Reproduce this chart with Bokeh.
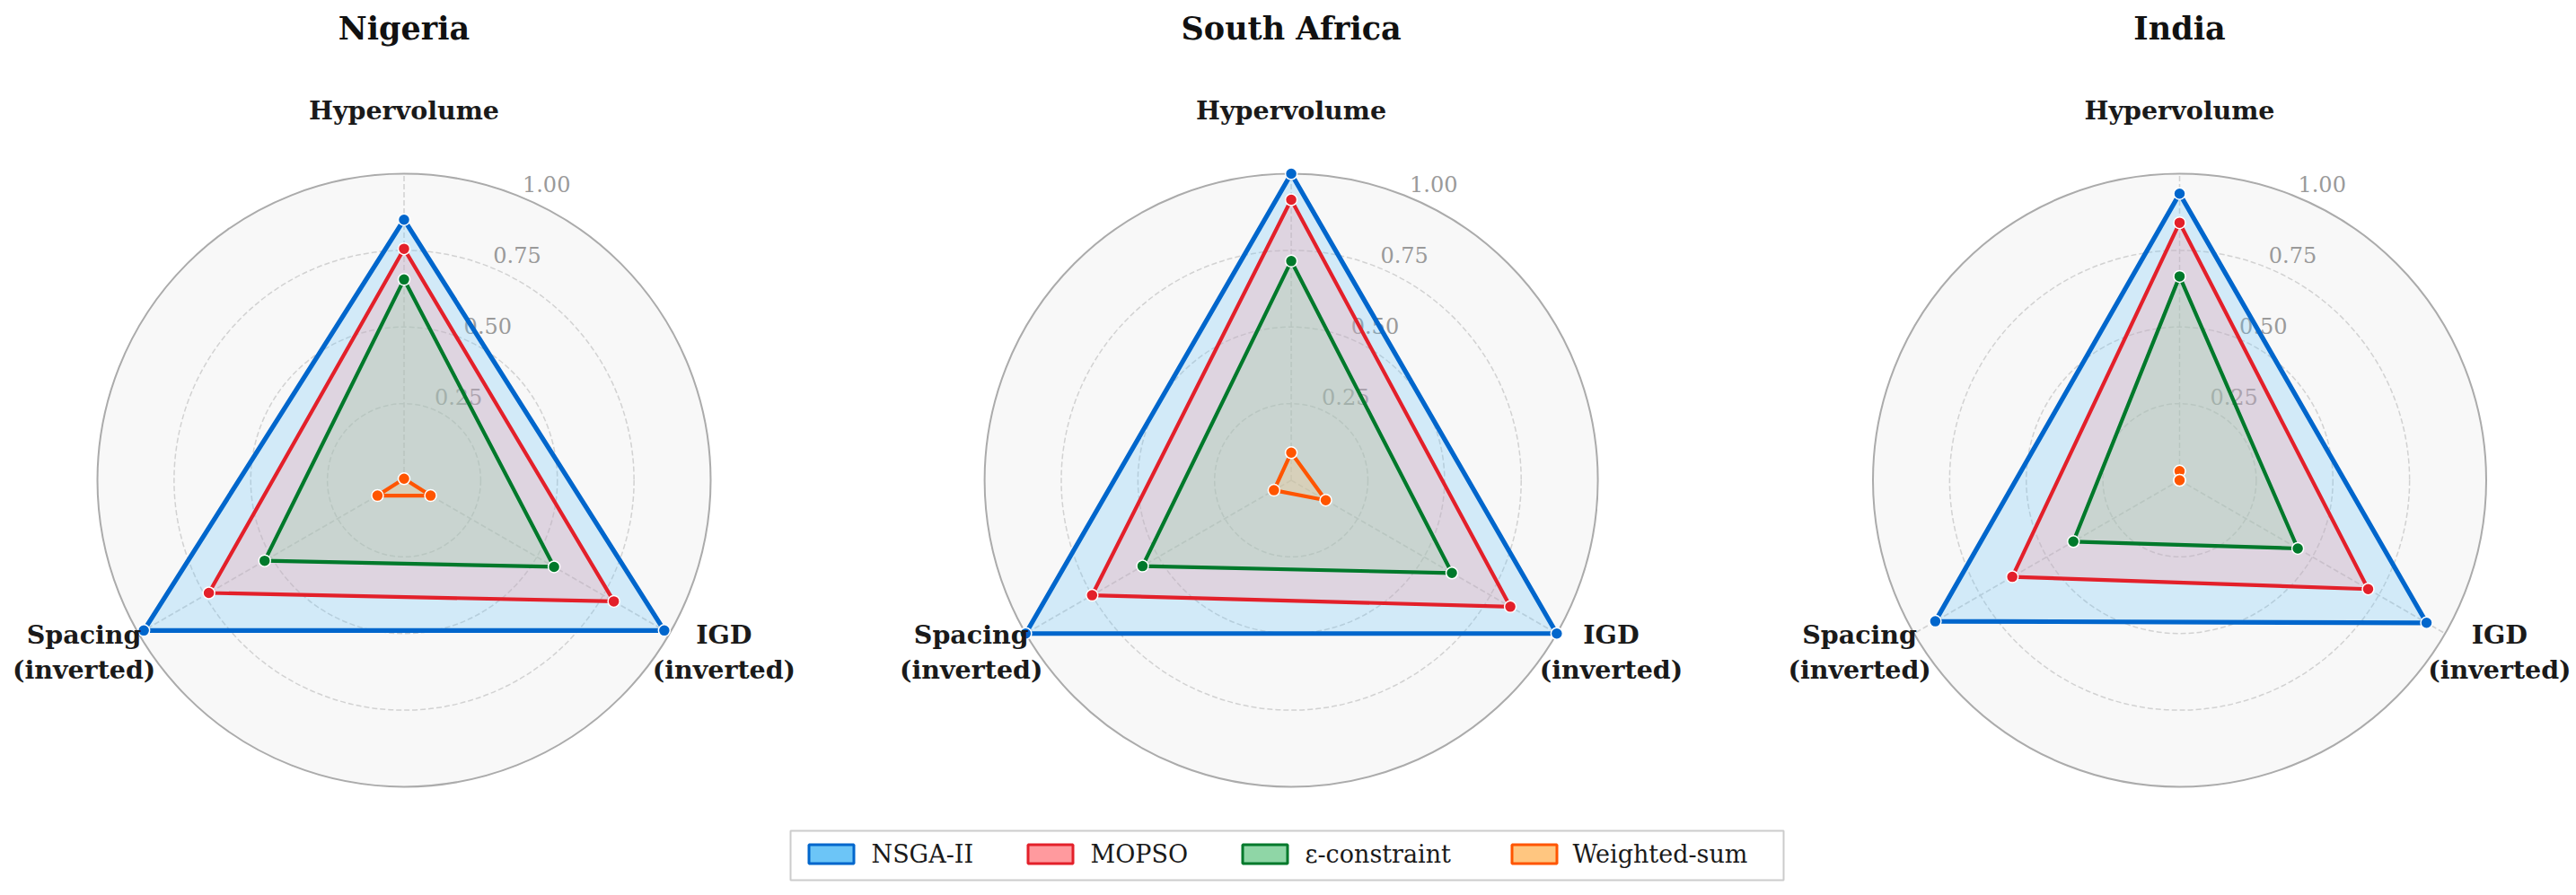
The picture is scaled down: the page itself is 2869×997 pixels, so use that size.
import numpy as np
from bokeh.plotting import figure
from bokeh.models import Range1d
from bokeh.embed import file_html
from bokeh.resources import INLINE
from bokeh.core.properties import value

# ---------------- data ----------------
countries = ["Nigeria", "South Africa", "India"]
metrics = ["Hypervolume", "IGD\n(inverted)", "Spacing\n(inverted)"]
methods = ["NSGA-II", "MOPSO", "ε-constraint", "Weighted-sum"]
ticks = [0.25, 0.50, 0.75, 1.00]
tick_labels = ["0.25", "0.50", "0.75", "1.00"]

# values per country: [Hypervolume, IGD (inverted), Spacing (inverted)]
nsga2 = {"Nigeria": [0.85, 0.98, 0.98], "South Africa": [1.00, 1.00, 1.00], "India": [0.935, 0.93, 0.92]}
mopso = {"Nigeria": [0.755, 0.79, 0.735], "South Africa": [0.915, 0.825, 0.75], "India": [0.84, 0.71, 0.63]}
eps_constraint = {"Nigeria": [0.655, 0.565, 0.525], "South Africa": [0.715, 0.605, 0.56], "India": [0.665, 0.445, 0.40]}
weighted_sum = {"Nigeria": [0.005, 0.10, 0.10], "South Africa": [0.09, 0.13, 0.065], "India": [0.03, 0.0, 0.0]}
series = [nsga2, mopso, eps_constraint, weighted_sum]

# ---------------- style ----------------
line_colors = ["#0066cc", "#e3202a", "#00792b", "#ff5500"]
fill_colors = ["#6cc5f7", "#ff9a9e", "#8fd6a6", "#ffc680"]
line_widths = [5.2, 4.2, 4.2, 4.2]
FONT = "DejaVu Serif"

R_PX = 341.5          # radius of the 1.0 ring in pixels
W, H = 2869, 997


def dx(X):
    return (X - 449.5) / R_PX


def dy(Y):
    return (534.5 - Y) / R_PX


centers = [0.0, dx(1437.6), dx(2427.0)]
angles = np.radians([0.0, 120.0, 240.0])   # clockwise from top
label_yoff = [0, -14, -14]                 # screen px nudge of the metric labels

p = figure(width=W, height=H,
           x_range=Range1d(dx(0), dx(W)), y_range=Range1d(dy(H), dy(0)),
           output_backend="svg", toolbar_location=None, min_border=0,
           x_axis_location=None, y_axis_location=None)
p.grid.visible = False
p.outline_line_color = None
p.background_fill_color = "white"
p.border_fill_color = "white"

# polar backgrounds
p.circle(x=centers, y=[0.0] * 3, radius=1.0, fill_color="#f8f8f8", line_color=None)

# dashed rings and spokes
rx, ry, rr = [], [], []
for cx in centers:
    for t in ticks[:-1]:
        rx.append(cx); ry.append(0.0); rr.append(t)
p.circle(x=rx, y=ry, radius=rr, fill_color=None, line_color="#d2d2d2",
         line_width=1.5, line_dash="6 3")
sx0, sy0, sx1, sy1 = [], [], [], []
for cx in centers:
    for a in angles:
        sx0.append(cx); sy0.append(0.0)
        sx1.append(cx + np.sin(a)); sy1.append(np.cos(a))
p.segment(x0=sx0, y0=sy0, x1=sx1, y1=sy1, line_color="#d2d2d2", line_width=1.5, line_dash="6 3")

# outer ring
p.circle(x=centers, y=[0.0] * 3, radius=1.0, fill_color=None, line_color="#ababab", line_width=2)

# radial tick labels
la = np.radians(22.5)
tx, ty, tt = [], [], []
for cx in centers:
    for t, lab in zip(ticks, tick_labels):
        tx.append(cx + t * np.sin(la)); ty.append(t * np.cos(la)); tt.append(lab)
p.text(x=tx, y=ty, text=tt, x_offset=28, y_offset=-14, text_align="center",
       text_baseline="middle", text_font=value(FONT), text_font_size="24px", text_color="#9a9a9a")

# polygons
for s, lc, fc, lw in zip(series, line_colors, fill_colors, line_widths):
    xs, ys, px, py = [], [], [], []
    for cx, c in zip(centers, countries):
        vals = np.array(s[c])
        x = cx + vals * np.sin(angles)
        y = vals * np.cos(angles)
        xs.append(list(x)); ys.append(list(y))
        px += list(x); py += list(y)
    p.patches(xs=xs, ys=ys, fill_color=fc, fill_alpha=0.27, line_color=lc,
              line_width=lw, line_join="round")
    p.scatter(x=px, y=py, size=13, fill_color=lc, line_color="white", line_width=1.5)

# axis (metric) labels
mx, my, mt, mo = [], [], [], []
for cx in centers:
    for a, m, yo in zip(angles, metrics, label_yoff):
        mx.append(cx + 1.205 * np.sin(a)); my.append(1.205 * np.cos(a)); mt.append(m); mo.append(yo)
p.text(x=mx, y=my, text=mt, y_offset=mo, text_align="center", text_baseline="middle",
       text_font=value(FONT), text_font_style="bold", text_font_size="28.5px",
       text_color="#1a1a1a", text_line_height=1.15)

# titles
p.text(x=centers, y=[dy(31)] * 3, text=countries, text_align="center", text_baseline="middle",
       text_font=value(FONT), text_font_style="bold", text_font_size="35px", text_color="#111111")

# legend (drawn manually)
p.quad(left=dx(880), right=dx(1986), top=dy(925), bottom=dy(980),
       fill_color="white", line_color="#cccccc", line_width=2)
patch_left = [900, 1144, 1383, 1683]
text_left = [970, 1214, 1453, 1751]
for m, lc, fc, pl, tl in zip(methods, line_colors, fill_colors, patch_left, text_left):
    p.rect(x=[dx(pl + 25.5)], y=[dy(951)], width=50 / R_PX, height=21 / R_PX,
           fill_color=fc, line_color=lc, line_width=3)
    p.text(x=[dx(tl)], y=[dy(951)], text=[m], text_align="left", text_baseline="middle",
           text_font=value(FONT), text_font_size="27px", text_color="#1a1a1a")

open("out.html", "w").write(file_html(p, INLINE))
